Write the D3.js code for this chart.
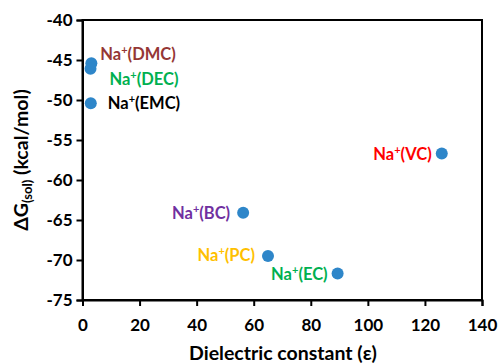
<!DOCTYPE html>
<html>
<head>
<meta charset="utf-8">
<script src="https://cdn.jsdelivr.net/npm/d3@7"></script>
<style>
  html, body { margin: 0; padding: 0; background: #fff; }
  svg { display: block; }
  text { font-family: Lato, "Open Sans", sans-serif; font-weight: 700; }
</style>
</head>
<body>
<svg id="chart" width="499" height="363"></svg>
<script>
// Solvated Na+ complexes: solvent, dielectric constant, solvation free energy
const solvents = ["DMC", "DEC", "EMC", "BC", "PC", "EC", "VC"];
const dielectric = [3.1, 2.8, 2.9, 56.3, 65.0, 89.4, 125.9];
const deltaG = [-45.4, -46.1, -50.4, -64.1, -69.5, -71.7, -56.7];
const labelColors = ["#953735", "#00B050", "#000000", "#7030A0", "#FFC000", "#00B050", "#FF0000"];
// label side relative to its point: "right" labels start after the dot, "left" end before it
const labelSide = ["right", "right", "right", "left", "left", "left", "left"];
const xTicks = [0, 20, 40, 60, 80, 100, 120, 140];
const yTicks = [-40, -45, -50, -55, -60, -65, -70, -75];

const margin = { left: 82.5, right: 17, top: 20, bottom: 63 };
const W = 499, H = 363;
const svg = d3.select("#chart");

const x = d3.scaleLinear().domain([0, 140]).range([margin.left, W - margin.right]);
const y = d3.scaleLinear().domain([-75, -40]).range([H - margin.bottom, margin.top]);

// plot frame
svg.append("rect")
  .attr("x", x(0)).attr("y", y(-40))
  .attr("width", x(140) - x(0)).attr("height", y(-75) - y(-40))
  .attr("fill", "none").attr("stroke", "#000").attr("stroke-width", 2);

const xAxis = svg.append("g")
  .attr("transform", `translate(0,${y(-75)})`)
  .call(d3.axisBottom(x).tickValues(xTicks).tickSize(6).tickPadding(13));
const yAxis = svg.append("g")
  .attr("transform", `translate(${x(0)},0)`)
  .call(d3.axisLeft(y).tickValues(yTicks).tickSize(6).tickPadding(4)
    .tickFormat(d => d < 0 ? "-" + Math.abs(d) : d));

[xAxis, yAxis].forEach(g => {
  g.select(".domain").attr("stroke", "#000").attr("stroke-width", 2);
  g.selectAll(".tick line").attr("stroke", "#000").attr("stroke-width", 2);
  g.selectAll(".tick text").attr("fill", "#000").style("font-size", "17px")
    .style("font-family", "Lato, sans-serif").style("font-weight", "700");
});

// axis titles
svg.append("text")
  .attr("x", 283).attr("y", 360)
  .attr("text-anchor", "middle")
  .style("font-size", "19.5px")
  .text("Dielectric constant (ε)");

const yTitle = svg.append("text")
  .attr("transform", "translate(28,160) rotate(-90)")
  .attr("text-anchor", "middle")
  .style("font-size", "19.5px");
yTitle.append("tspan").text("ΔG");
yTitle.append("tspan").attr("dy", 4).style("font-size", "13px").text("(sol)");
yTitle.append("tspan").attr("dy", -4).text(" (kcal/mol)");

// data points
const data = solvents.map((s, i) => ({
  s, e: dielectric[i], g: deltaG[i], c: labelColors[i], side: labelSide[i]
}));

svg.append("g").selectAll("circle")
  .data(data).join("circle")
  .attr("cx", d => x(d.e)).attr("cy", d => y(d.g))
  .attr("r", 6).attr("fill", "#2E86C9");

// labels: offsets per point keep overlapping stacks readable
const labelOffset = {
  DMC: [9, -9], DEC: [19, 10], EMC: [17, 0],
  BC: [-13, 0], PC: [-13, -1], EC: [-10, 0], VC: [-10, 0]
};
const labels = svg.append("g").selectAll("text")
  .data(data).join("text")
  .attr("x", d => x(d.e) + labelOffset[d.s][0])
  .attr("y", d => y(d.g) + labelOffset[d.s][1] + 6)
  .attr("text-anchor", d => d.side === "right" ? "start" : "end")
  .attr("fill", d => d.c)
  .style("font-size", "16.5px");
labels.append("tspan").text("Na");
labels.append("tspan").attr("dy", -6).style("font-size", "11px").text("+");
labels.append("tspan").attr("dy", 6).text(d => `(${d.s})`);
</script>
</body>
</html>
